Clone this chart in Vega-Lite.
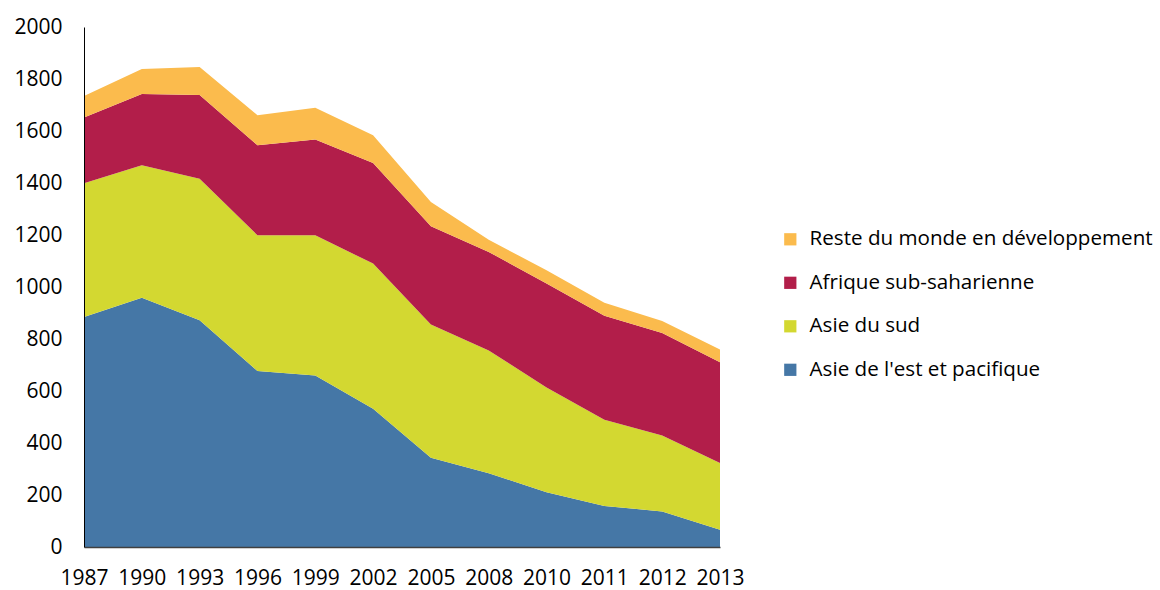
{
  "$schema": "https://vega.github.io/schema/vega-lite/v6.json",
  "autosize": {"type": "none"},
  "padding": {"left": 84, "top": 27, "right": 440, "bottom": 43},
  "width": 636,
  "height": 520,
  "background": "white",
  "config": {
    "view": {"stroke": null},
    "font": "Open Sans",
    "axis": {"labelFont": "Open Sans", "labelColor": "#000000", "labelFontSize": 21, "grid": false, "ticks": false, "domainColor": "#404040", "domainWidth": 1.5, "title": null},
    "legend": {"labelFont": "Open Sans", "labelColor": "#000000", "labelFontSize": 20.6}
  },
  "data": {
    "values": [
      {"year": "1987", "region": "Asie de l'est et pacifique", "value": 885},
      {"year": "1987", "region": "Asie du sud", "value": 514},
      {"year": "1987", "region": "Afrique sub-saharienne", "value": 253},
      {"year": "1987", "region": "Reste du monde en développement", "value": 83},
      {"year": "1990", "region": "Asie de l'est et pacifique", "value": 959},
      {"year": "1990", "region": "Asie du sud", "value": 509},
      {"year": "1990", "region": "Afrique sub-saharienne", "value": 274},
      {"year": "1990", "region": "Reste du monde en développement", "value": 96},
      {"year": "1993", "region": "Asie de l'est et pacifique", "value": 872},
      {"year": "1993", "region": "Asie du sud", "value": 544},
      {"year": "1993", "region": "Afrique sub-saharienne", "value": 322},
      {"year": "1993", "region": "Reste du monde en développement", "value": 108},
      {"year": "1996", "region": "Asie de l'est et pacifique", "value": 677},
      {"year": "1996", "region": "Asie du sud", "value": 522},
      {"year": "1996", "region": "Afrique sub-saharienne", "value": 346},
      {"year": "1996", "region": "Reste du monde en développement", "value": 116},
      {"year": "1999", "region": "Asie de l'est et pacifique", "value": 660},
      {"year": "1999", "region": "Asie du sud", "value": 539},
      {"year": "1999", "region": "Afrique sub-saharienne", "value": 368},
      {"year": "1999", "region": "Reste du monde en développement", "value": 122},
      {"year": "2002", "region": "Asie de l'est et pacifique", "value": 532},
      {"year": "2002", "region": "Asie du sud", "value": 558},
      {"year": "2002", "region": "Afrique sub-saharienne", "value": 387},
      {"year": "2002", "region": "Reste du monde en développement", "value": 107},
      {"year": "2005", "region": "Asie de l'est et pacifique", "value": 343},
      {"year": "2005", "region": "Asie du sud", "value": 513},
      {"year": "2005", "region": "Afrique sub-saharienne", "value": 378},
      {"year": "2005", "region": "Reste du monde en développement", "value": 93},
      {"year": "2008", "region": "Asie de l'est et pacifique", "value": 284},
      {"year": "2008", "region": "Asie du sud", "value": 472},
      {"year": "2008", "region": "Afrique sub-saharienne", "value": 379},
      {"year": "2008", "region": "Reste du monde en développement", "value": 47},
      {"year": "2010", "region": "Asie de l'est et pacifique", "value": 211},
      {"year": "2010", "region": "Asie du sud", "value": 402},
      {"year": "2010", "region": "Afrique sub-saharienne", "value": 400},
      {"year": "2010", "region": "Reste du monde en développement", "value": 51},
      {"year": "2011", "region": "Asie de l'est et pacifique", "value": 158},
      {"year": "2011", "region": "Asie du sud", "value": 331},
      {"year": "2011", "region": "Afrique sub-saharienne", "value": 400},
      {"year": "2011", "region": "Reste du monde en développement", "value": 50},
      {"year": "2012", "region": "Asie de l'est et pacifique", "value": 137},
      {"year": "2012", "region": "Asie du sud", "value": 292},
      {"year": "2012", "region": "Afrique sub-saharienne", "value": 394},
      {"year": "2012", "region": "Reste du monde en développement", "value": 46},
      {"year": "2013", "region": "Asie de l'est et pacifique", "value": 66},
      {"year": "2013", "region": "Asie du sud", "value": 257},
      {"year": "2013", "region": "Afrique sub-saharienne", "value": 388},
      {"year": "2013", "region": "Reste du monde en développement", "value": 49}
    ]
  },
  "transform": [
    {"calculate": "indexof(['Asie de l\\'est et pacifique', 'Asie du sud', 'Afrique sub-saharienne', 'Reste du monde en développement'], datum.region)", "as": "stackOrder"}
  ],
  "mark": {"type": "area", "opacity": 1},
  "encoding": {
    "x": {
      "field": "year",
      "type": "ordinal",
      "scale": {"type": "point", "padding": 0},
      "axis": {"labelAngle": 0, "labelPadding": 20, "domainColor": "#404040", "zindex": 1}
    },
    "y": {
      "field": "value",
      "type": "quantitative",
      "stack": "zero",
      "scale": {"domain": [0, 2000], "nice": false},
      "axis": {"values": [0, 200, 400, 600, 800, 1000, 1200, 1400, 1600, 1800, 2000], "format": "d", "labelPadding": 22, "domainColor": "#000000", "domainWidth": 1, "zindex": 1}
    },
    "order": {"field": "stackOrder", "type": "quantitative", "sort": "ascending"},
    "color": {
      "field": "region",
      "type": "nominal",
      "sort": ["Reste du monde en développement", "Afrique sub-saharienne", "Asie du sud", "Asie de l'est et pacifique"],
      "scale": {
        "domain": ["Reste du monde en développement", "Afrique sub-saharienne", "Asie du sud", "Asie de l'est et pacifique"],
        "range": ["#FBBB4D", "#B21E4A", "#D3D831", "#4577A6"]
      },
      "legend": {
        "title": null,
        "orient": "none",
        "legendX": 696,
        "legendY": 202,
        "symbolType": "square",
        "symbolSize": 150,
        "symbolStrokeWidth": 0,
        "labelOffset": 9,
        "labelLimit": 0,
        "rowPadding": 22.5,
        "padding": 0
      }
    }
  }
}
